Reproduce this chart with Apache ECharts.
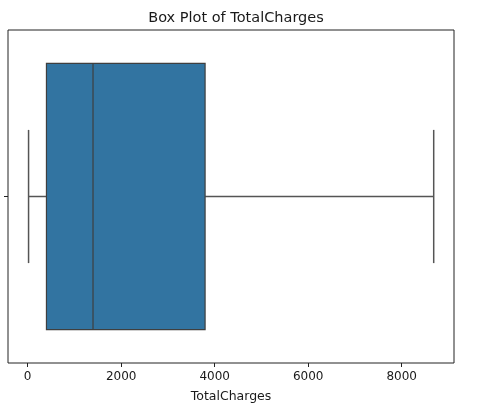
<!DOCTYPE html>
<html>
<head>
<meta charset="utf-8">
<style>html,body{margin:0;padding:0;background:#fff}#c{width:496px;height:414px}</style>
<script src="https://cdn.jsdelivr.net/npm/echarts@6/dist/echarts.min.js"></script>
</head>
<body>
<div id="c"></div>
<script>
const categories = [''];
const whiskerLow = [18.8];
const q1 = [401.45];
const median = [1397.475];
const q3 = [3794.74];
const whiskerHigh = [8684.8];
const xTicks = [0, 2000, 4000, 6000, 8000];

const chart = echarts.init(document.getElementById('c'));
const lineColor = '#555555';
const seriesData = categories.map((c, i) => [i, whiskerLow[i], q1[i], median[i], q3[i], whiskerHigh[i]]);

chart.setOption({
  animation: false,
  title: {
    text: 'Box Plot of TotalCharges', left: 231, top: 6, textAlign: 'center',
    textStyle: {fontFamily: 'DejaVu Sans', fontSize: 14.5, fontWeight: 'normal', color: '#1a1a1a'}
  },
  grid: {left: 8, right: 42, top: 30, bottom: 51, show: true, borderColor: '#222', borderWidth: 1, backgroundColor: 'transparent'},
  xAxis: {
    type: 'value', min: -421, max: 9119,
    name: 'TotalCharges', nameLocation: 'middle', nameGap: 27,
    nameTextStyle: {fontFamily: 'DejaVu Sans', fontSize: 12.5, color: '#1a1a1a'},
    splitLine: {show: false},
    axisLine: {show: false, onZero: false},
    axisTick: {show: true, inside: false, customValues: xTicks, length: 4, lineStyle: {color: '#222'}},
    axisLabel: {customValues: xTicks, formatter: v => String(v), fontFamily: 'DejaVu Sans', fontSize: 12, color: '#1a1a1a', margin: 8}
  },
  yAxis: {
    type: 'category', data: categories, inverse: true,
    axisLine: {show: false, onZero: false},
    axisTick: {show: true, inside: false, alignWithLabel: true, length: 4, lineStyle: {color: '#222'}},
    axisLabel: {show: false},
    splitLine: {show: false}
  },
  series: [{
    type: 'custom',
    data: seriesData,
    encode: {y: 0, x: [1, 2, 3, 4, 5]},
    renderItem: function (params, api) {
      const cat = api.value(0);
      const band = api.size([0, 1])[1];
      const bh = band * 0.8;
      const ch = bh * 0.5;
      const yc = api.coord([0, cat])[1];
      const xLo = api.coord([api.value(1), cat])[0];
      const xQ1 = api.coord([api.value(2), cat])[0];
      const xMed = api.coord([api.value(3), cat])[0];
      const xQ3 = api.coord([api.value(4), cat])[0];
      const xHi = api.coord([api.value(5), cat])[0];
      const ls = {stroke: lineColor, lineWidth: 1.5, fill: null};
      return {
        type: 'group',
        children: [
          {type: 'line', shape: {x1: xLo, y1: yc, x2: xQ1, y2: yc}, style: ls},
          {type: 'line', shape: {x1: xQ3, y1: yc, x2: xHi, y2: yc}, style: ls},
          {type: 'line', shape: {x1: xLo, y1: yc - ch / 2, x2: xLo, y2: yc + ch / 2}, style: ls},
          {type: 'line', shape: {x1: xHi, y1: yc - ch / 2, x2: xHi, y2: yc + ch / 2}, style: ls},
          {type: 'rect', shape: {x: xQ1, y: yc - bh / 2, width: xQ3 - xQ1, height: bh}, style: {fill: '#3274a1', stroke: '#3f3f3f', lineWidth: 1.2}},
          {type: 'line', shape: {x1: xMed, y1: yc - bh / 2, x2: xMed, y2: yc + bh / 2}, style: {stroke: '#3f3f3f', lineWidth: 1.2}}
        ]
      };
    }
  }]
});
</script>
</body>
</html>
